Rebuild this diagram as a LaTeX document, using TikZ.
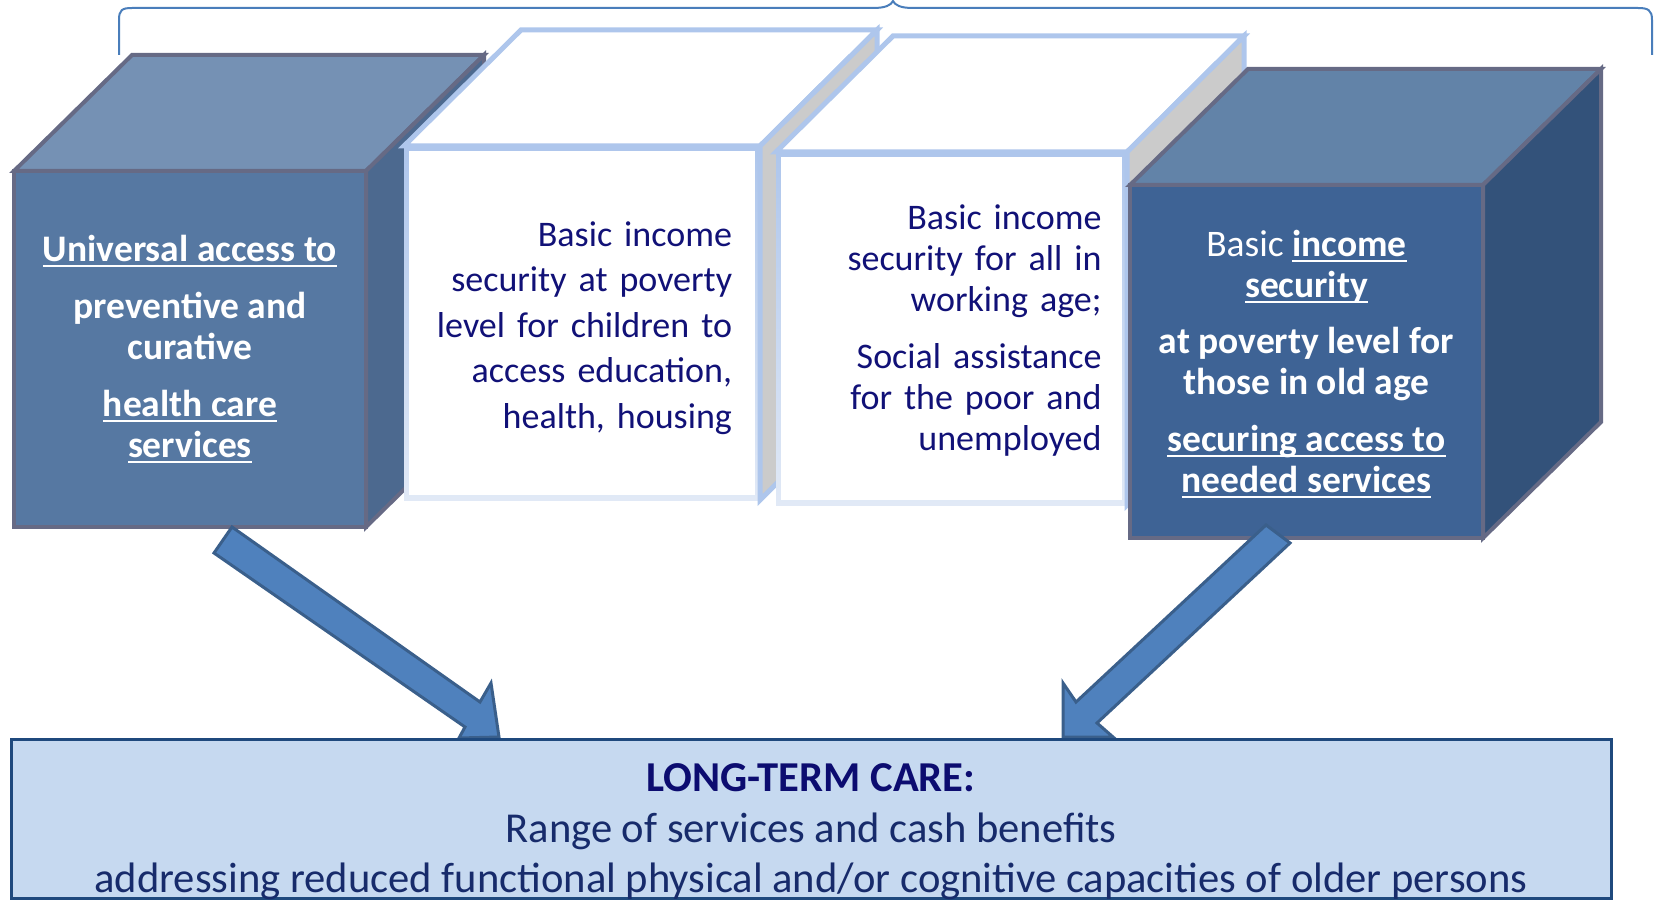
\documentclass[tikz,border=0pt]{standalone}
\usepackage{fontspec}
\setmainfont{Carlito}
\usepackage{xcolor}
\usetikzlibrary{arrows,shapes,positioning,calc}

\definecolor{cubeline}{HTML}{666A85}
\definecolor{frontL}{HTML}{5678A2}
\definecolor{topL}{HTML}{7591B4}
\definecolor{sideL}{HTML}{4C698F}
\definecolor{frontR}{HTML}{3E6395}
\definecolor{topR}{HTML}{6283A8}
\definecolor{sideR}{HTML}{33527A}
\definecolor{paleline}{HTML}{AEC6EC}
\definecolor{paleend}{HTML}{E1E9F6}
\definecolor{greyside}{HTML}{CBCBCB}
\definecolor{navytext}{HTML}{111177}
\definecolor{navybold}{HTML}{0C0C70}
\definecolor{caretext}{HTML}{172B6B}
\definecolor{arrowfill}{HTML}{4F81BD}
\definecolor{arrowline}{HTML}{3A5F8B}
\definecolor{carefill}{HTML}{C6D9F0}
\definecolor{careline}{HTML}{1F497D}
\definecolor{bracecol}{HTML}{4A7EBB}

% underline drawn as a rule just under the baseline
\newcommand{\undl}[1]{\setbox0\hbox{#1}\leavevmode\rlap{\vrule height -3.5pt depth 6pt width \wd0}\box0}

\begin{document}
\begin{tikzpicture}[x=1pt,y=-1pt,
  cubeface/.style={draw=cubeline,line width=4pt},
  front/.style={cubeface,rectangle,outer sep=0pt,inner sep=0pt,text=white,align=center,
    font=\bfseries\fontsize{37.5}{41}\selectfont},
  paleface/.style={draw=paleline,line width=5pt},
  whitefront/.style={rectangle,outer sep=0pt,inner sep=0pt,top color=paleline,bottom color=paleend,
    text=navytext,align=right,text width=300pt,
    path picture={\fill[white] ([xshift=5pt,yshift=-5pt]path picture bounding box.north west)
      rectangle ([xshift=-5pt,yshift=5pt]path picture bounding box.south east);}},
  bigarrow/.style={fill=arrowfill,draw=arrowline,line width=3pt},
  carebox/.style={rectangle,fill=carefill,draw=careline,line width=3pt,outer sep=0pt}]
\useasboundingbox (0,0) rectangle (1656,901);

\draw[bracecol,line width=2pt] (119,55) -- (119,20) .. controls (119,10) and (122,8) .. (132,8)
  -- (873,8) .. controls (886,8) and (891,5) .. (893,1) .. controls (895,5) and (900,8) .. (913,8)
  -- (1638,8) .. controls (1648,8) and (1652,10) .. (1652,20) -- (1652,55);

\node[front,fill=frontL,minimum width=352pt,minimum height=356pt] (health) at (190,349)
  {\undl{Universal access to}\\[16pt] preventive and\\ curative\\[16pt] \undl{health care}\\ \undl{services}};
\filldraw[cubeface,fill=topL] (health.north west) -- ++(118,-116) -- ++(352,0) -- (health.north east) -- cycle;
\filldraw[cubeface,fill=sideL] (health.north east) -- ++(118,-116) -- ++(0,356) -- (health.south east) -- cycle;

\node[whitefront,minimum width=356pt,minimum height=354pt,font=\fontsize{36}{45.5}\selectfont] (kids) at (582,323)
  {\rule{0pt}{35pt}Basic income\\ security at poverty\\ level for children to\\ access education,\\ health, housing};
\filldraw[paleface,fill=white] (kids.north west) -- ++(117,-116) -- ++(356,0) -- (kids.north east) -- cycle;
\filldraw[paleface,fill=greyside] (kids.north east) -- ++(117,-116) -- ++(0,354) -- (kids.south east) -- cycle;

\node[whitefront,minimum width=351pt,minimum height=353pt,font=\fontsize{36}{41}\selectfont] (work) at (951.5,328.5)
  {\rule{0pt}{29pt}Basic income\\ security for all in\\ working age;\\[16pt] Social assistance\\ for the poor and\\ unemployed};
\filldraw[paleface,fill=white] (work.north west) -- ++(117,-116) -- ++(351,0) -- (work.north east) -- cycle;
\filldraw[paleface,fill=greyside] (work.north east) -- ++(117,-116) -- ++(0,353) -- (work.south east) -- cycle;

\node[front,fill=frontR,minimum width=353pt,minimum height=353pt] (oldage) at (1306.5,361.5)
  {\rule{0pt}{31pt}{\mdseries Basic} \undl{income}\\ \undl{security}\\[15pt] at poverty level for\\ those in old age\\[16pt]
   \undl{securing access to}\\ \undl{needed services}};
\filldraw[cubeface,fill=topR] (oldage.north west) -- ++(118,-116) -- ++(353,0) -- (oldage.north east) -- cycle;
\filldraw[cubeface,fill=sideR] (oldage.north east) -- ++(118,-116) -- ++(0,353) -- (oldage.south east) -- cycle;

\filldraw[bigarrow] (232,527) -- (480,702) -- (491,683) -- (499,737) -- (459,738) -- (465,727) -- (214,553) -- cycle;
\filldraw[bigarrow] (1266,525) -- (1290,543) -- (1097,723) -- (1113,737) -- (1063,737) -- (1063,683) -- (1076,702) -- cycle;

\node[carebox,minimum width=1600pt,minimum height=159pt] (ltc) at (811,818.5) {};
\node[text=caretext,align=center,font=\fontsize{42.6}{50.5}\selectfont] (ltctext) at (811,832)
  {\textbf{\color{navybold}LONG-TERM CARE:}\\ Range of services and cash benefits\\
   addressing reduced functional physical and/or cognitive capacities of older persons};
\end{tikzpicture}
\end{document}
